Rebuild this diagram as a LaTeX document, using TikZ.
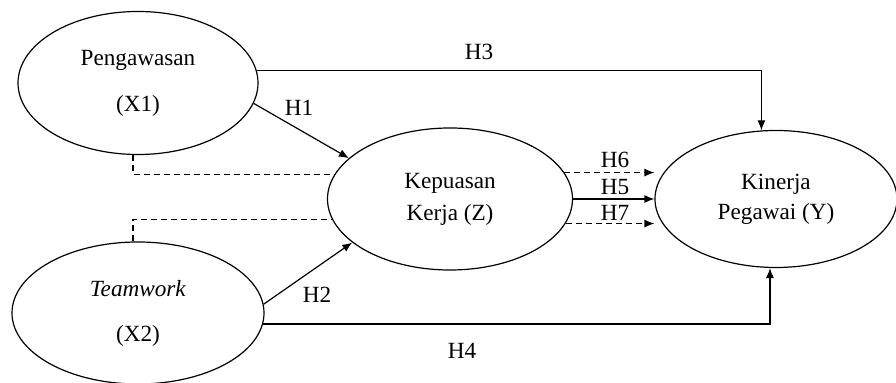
\documentclass[tikz,border=0pt]{standalone}
\usepackage{fontspec}
\setmainfont{Liberation Serif}
\usetikzlibrary{arrows.meta, shapes.geometric}
\tikzset{
    latent/.style={ellipse, draw, line width=0.6pt, inner sep=0pt, align=center}, % variabel laten
    hyp/.style={inner sep=1pt}, % label hipotesis
    effect/.style={line width=0.6pt, -{Latex[length=5pt, width=4pt]}},
    indirect/.style={line width=0.6pt, dash pattern=on 3pt off 2pt}
}

\begin{document}
\begin{tikzpicture}[x=0.5pt, y=-0.5pt, font=\fontsize{11.6}{14}\selectfont]
    \useasboundingbox (0, 0) rectangle (896, 383);

    % variabel
    \node[latent, minimum width=120pt, minimum height=71.5pt] (x1) at (138, 83) {Pengawasan\\[9pt](X1)};
    \node[latent, minimum width=126pt, minimum height=71pt] (x2) at (138, 313) {\textit{Teamwork}\\[8.5pt](X2)};
    \node[latent, minimum width=122.5pt, minimum height=71pt] (z) at (450, 199) {Kepuasan\\[2pt]Kerja (Z)};
    \node[latent, minimum width=121pt, minimum height=68.5pt] (y) at (776, 199) {Kinerja\\[1pt]Pegawai (Y)};

    % pengaruh langsung
    \draw[effect] (x1.-10) -- (z.158);
    \draw[effect] (x2.4) -- (z.204);
    \draw[effect] (x1.6) -| (y.102);
    \draw[effect] (x2.-5) -| (y.265);
    \draw[effect] (z.east) -- (y.west);

    % pengaruh tidak langsung
    \draw[indirect] (x1.266) |- (z.168);
    \draw[indirect] (x2.94) |- (z.190);
    \draw[indirect, effect] (z.13) -- (z.13 -| y.west);
    \draw[indirect, effect] (z.-12) -- (z.-12 -| y.west);

    \node[hyp] (h1) at (299, 108) {H1};
    \node[hyp] (h2) at (317, 295) {H2};
    \node[hyp] (h3) at (479, 52) {H3};
    \node[hyp] (h4) at (462, 351) {H4};
    \node[hyp] (h6) at (615, 160) {H6};
    \node[hyp] (h5) at (615, 187) {H5};
    \node[hyp] (h7) at (615, 213) {H7};
\end{tikzpicture}
\end{document}
